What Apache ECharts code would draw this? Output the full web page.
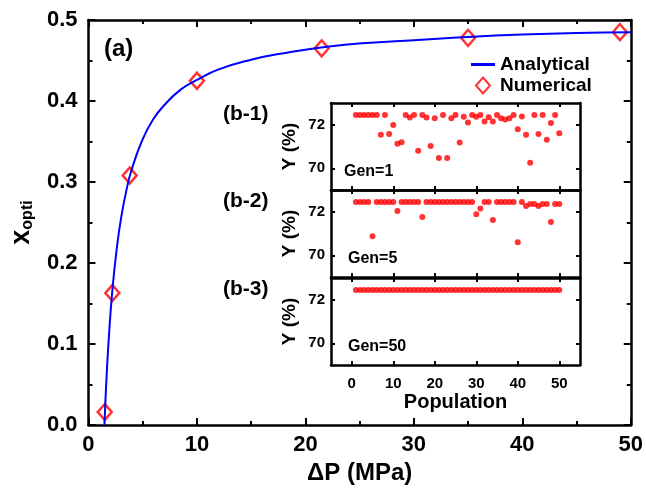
<!DOCTYPE html>
<html>
<head>
<meta charset="utf-8">
<script src="https://cdn.jsdelivr.net/npm/echarts@6/dist/echarts.min.js"></script>
<style>
  html, body { margin: 0; padding: 0; background: #fff; }
  #chart { width: 646px; height: 492px; }
</style>
</head>
<body>
<div id="chart"></div>
<script>
// main plot: analytical curve and numerical points
const curveX = [1.47, 1.55, 1.7, 1.9, 2.2, 2.6, 3.0, 3.5, 4.0, 5.0, 6.0, 7.0, 8.5, 10, 12, 15, 18, 22, 26, 30, 35, 40, 45, 50]
const curveY = [0, 0.026, 0.068, 0.113, 0.166, 0.217, 0.255, 0.29, 0.316, 0.353, 0.378, 0.395, 0.414, 0.426, 0.439, 0.451, 0.459, 0.467, 0.472, 0.475, 0.479, 0.482, 0.484, 0.485]
const numX = [1.5, 2.2, 3.8, 10, 21.5, 35, 49]
const numY = [0.016, 0.163, 0.308, 0.425, 0.465, 0.478, 0.485]

// inset: yield of each individual in the population
const population = [1, 2, 3, 4, 5, 6, 7, 8, 9, 10, 11, 12, 13, 14, 15, 16, 17, 18, 19, 20, 21, 22, 23, 24, 25,
    26, 27, 28, 29, 30, 31, 32, 33, 34, 35, 36, 37, 38, 39, 40, 41, 42, 43, 44, 45, 46, 47, 48, 49, 50]
const gen1 = [72.45, 72.45, 72.45, 72.45, 72.45, 72.45, 71.54, 72.45, 71.57, 71.99,
    71.13, 71.19, 72.45, 72.33, 72.45, 70.8, 72.45, 72.33, 71.02, 72.3,
    70.47, 72.45, 70.47, 72.3, 72.45, 71.18, 72.37, 72.1, 72.45, 72.37,
    72.45, 72.15, 72.34, 72.15, 72.45, 72.3, 72.24, 72.3, 72.45, 71.79,
    72.38, 71.54, 70.25, 72.45, 71.57, 72.45, 71.31, 72.08, 72.45, 71.61]
const gen5 = [72.45, 72.45, 72.45, 72.45, 70.87, 72.45, 72.45, 72.45, 72.45, 72.45,
    72.03, 72.45, 72.45, 72.45, 72.45, 72.45, 71.76, 72.45, 72.45, 72.45,
    72.45, 72.45, 72.45, 72.45, 72.45, 72.45, 72.45, 72.45, 72.45, 71.89,
    72.15, 72.45, 72.45, 71.62, 72.45, 72.45, 72.45, 72.45, 72.45, 70.6,
    72.45, 72.27, 72.36, 72.36, 72.27, 72.36, 72.36, 71.53, 72.36, 72.36]
const gen50 = [72.45, 72.45, 72.45, 72.45, 72.45, 72.45, 72.45, 72.45, 72.45, 72.45,
    72.45, 72.45, 72.45, 72.45, 72.45, 72.45, 72.45, 72.45, 72.45, 72.45,
    72.45, 72.45, 72.45, 72.45, 72.45, 72.45, 72.45, 72.45, 72.45, 72.45,
    72.45, 72.45, 72.45, 72.45, 72.45, 72.45, 72.45, 72.45, 72.45, 72.45,
    72.45, 72.45, 72.45, 72.45, 72.45, 72.45, 72.45, 72.45, 72.45, 72.45]
const insetYTicks = [70, 72]
const insetXTicks = [0, 10, 20, 30, 40, 50]
const genLabels = ['Gen=1', 'Gen=5', 'Gen=50']
const panelLabels = ['(b-1)', '(b-2)', '(b-3)']

const FONT = 'Arial, "Liberation Sans", sans-serif'
const chart = echarts.init(document.getElementById('chart'))

const zip = (xs, ys) => xs.map((x, i) => [x, ys[i]])

function mainX(pos) {
    return {
        type: 'value', gridIndex: 0, position: pos, min: 0, max: 50, interval: 10,
        axisLine: { show: true, onZero: false, lineStyle: { color: '#000', width: 2.5 } },
        axisTick: { show: true, inside: true, length: 7, lineStyle: { color: '#000', width: 2 } },
        minorTick: { show: true, splitNumber: 2, length: 4, lineStyle: { color: '#000', width: 2 } },
        splitLine: { show: false },
        axisLabel: { show: pos === 'bottom', color: '#000', fontSize: 22, fontWeight: 'bold', fontFamily: FONT, margin: 9 },
        name: pos === 'bottom' ? 'ΔP (MPa)' : '',
        nameLocation: 'middle', nameGap: 33,
        nameTextStyle: { color: '#000', fontSize: 24, fontWeight: 'bold', fontFamily: FONT }
    }
}

function mainY(pos) {
    return {
        type: 'value', gridIndex: 0, position: pos, min: 0, max: 0.5, interval: 0.1,
        axisLine: { show: true, onZero: false, lineStyle: { color: '#000', width: 2.5 } },
        axisTick: { show: true, inside: true, length: 7, lineStyle: { color: '#000', width: 2 } },
        minorTick: { show: true, splitNumber: 2, length: 4, lineStyle: { color: '#000', width: 2 } },
        splitLine: { show: false },
        axisLabel: {
            show: pos === 'left', color: '#000', fontSize: 22, fontWeight: 'bold', fontFamily: FONT, margin: 11,
            formatter: v => v.toFixed(1)
        },
        name: pos === 'left' ? '{x|x}{s|opti}' : '',
        nameLocation: 'middle', nameGap: 52,
        nameTextStyle: {
            color: '#000', fontFamily: FONT, fontWeight: 'bold',
            rich: {
                x: { fontSize: 27, fontWeight: 'bold', fontFamily: FONT, color: '#000' },
                s: { fontSize: 16, fontWeight: 'bold', fontFamily: FONT, color: '#000', padding: [13, 0, 0, 0] }
            }
        }
    }
}

// inset panels, stacked
const panelTops = [103, 190, 278]
const panelHeight = 87
const insetLeft = 331
const insetRight = 66

const insetLine = { show: true, onZero: false, lineStyle: { color: '#000', width: 2.5 } }

function insetX(gi, pos, last) {
    return {
        type: 'value', gridIndex: gi, position: pos, min: -5, max: 55, z: 8,
        axisLine: insetLine,
        axisTick: { show: true, inside: true, length: 4, customValues: insetXTicks, lineStyle: { color: '#000', width: 2 } },
        splitLine: { show: false },
        axisLabel: {
            show: last && pos === 'bottom', customValues: insetXTicks,
            color: '#000', fontSize: 15, fontWeight: 'bold', fontFamily: FONT, margin: 11
        },
        name: last && pos === 'bottom' ? 'Population' : '',
        nameLocation: 'middle', nameGap: 27,
        nameTextStyle: { color: '#000', fontSize: 20, fontWeight: 'bold', fontFamily: FONT }
    }
}

function insetY(gi, pos) {
    return {
        type: 'value', gridIndex: gi, position: pos, min: 69, max: 73, z: 8,
        axisLine: insetLine,
        axisTick: { show: true, inside: true, length: 4, customValues: insetYTicks, lineStyle: { color: '#000', width: 2 } },
        splitLine: { show: false },
        axisLabel: {
            show: pos === 'left', customValues: insetYTicks,
            color: '#000', fontSize: 15, fontWeight: 'bold', fontFamily: FONT, margin: 6
        },
        name: pos === 'left' ? 'Y (%)' : '',
        nameLocation: 'middle', nameGap: 32,
        nameTextStyle: { color: '#000', fontSize: 19, fontWeight: 'bold', fontFamily: FONT }
    }
}

const grids = [{ left: 86, right: 13, top: 20, bottom: 67 }]
const xAxes = [mainX('bottom'), mainX('top')]
const yAxes = [mainY('left'), mainY('right')]
panelTops.forEach((t, k) => {
    grids.push({
        left: insetLeft, right: insetRight, top: t, height: panelHeight,
        show: true, backgroundColor: '#fff', borderWidth: 0, z: 3
    })
    xAxes.push(insetX(k + 1, 'bottom', k === 2), insetX(k + 1, 'top', k === 2))
    yAxes.push(insetY(k + 1, 'left'), insetY(k + 1, 'right'))
})

const insetSeries = [gen1, gen5, gen50].map((vals, k) => ({
    type: 'scatter', name: genLabels[k],
    xAxisIndex: 2 + k * 2, yAxisIndex: 2 + k * 2,
    data: zip(population, vals),
    symbol: 'circle', symbolSize: 6,
    itemStyle: { color: '#ff0000' },
    z: 6
}))

const textStyle = (size) => ({ fill: '#000', font: 'bold ' + size + 'px ' + FONT })

const graphics = [
    { type: 'text', left: 104, top: 37, style: Object.assign({ text: '(a)' }, textStyle(24)) }
]
panelTops.forEach((t, k) => {
    graphics.push({ type: 'text', left: 223, top: t + 1, z: 10, style: Object.assign({ text: panelLabels[k] }, textStyle(21)) })
    graphics.push({ type: 'text', left: 344 + (k ? 4 : 0), top: t + 61, z: 10, style: Object.assign({ text: genLabels[k] }, textStyle(16)) })
})

chart.setOption({
    animation: false,
    backgroundColor: '#fff',
    grid: grids,
    xAxis: xAxes,
    yAxis: yAxes,
    legend: {
        data: [
            { name: 'Analytical', icon: 'path://M0,0L24,0L24,3L0,3Z' },
            { name: 'Numerical', icon: 'path://M7,0L14,8L7,16L0,8Z' }
        ],
        orient: 'vertical', left: 466, top: 50,
        itemWidth: 24, itemHeight: 16, itemGap: 2,
        textStyle: { color: '#000', fontSize: 19, fontWeight: 'bold', fontFamily: FONT }
    },
    graphic: graphics,
    series: [
        {
            type: 'line', name: 'Analytical', xAxisIndex: 0, yAxisIndex: 0,
            data: zip(curveX, curveY), smooth: true,
            symbol: 'none', lineStyle: { color: '#0000ff', width: 2 }, itemStyle: { color: '#0000ff' }
        },
        {
            type: 'scatter', name: 'Numerical', xAxisIndex: 0, yAxisIndex: 0,
            data: zip(numX, numY), symbol: 'diamond', symbolSize: [14, 16],
            itemStyle: { color: '#fff', borderColor: '#ff0000', borderWidth: 2.5 }
        }
    ].concat(insetSeries)
})
</script>
</body>
</html>
